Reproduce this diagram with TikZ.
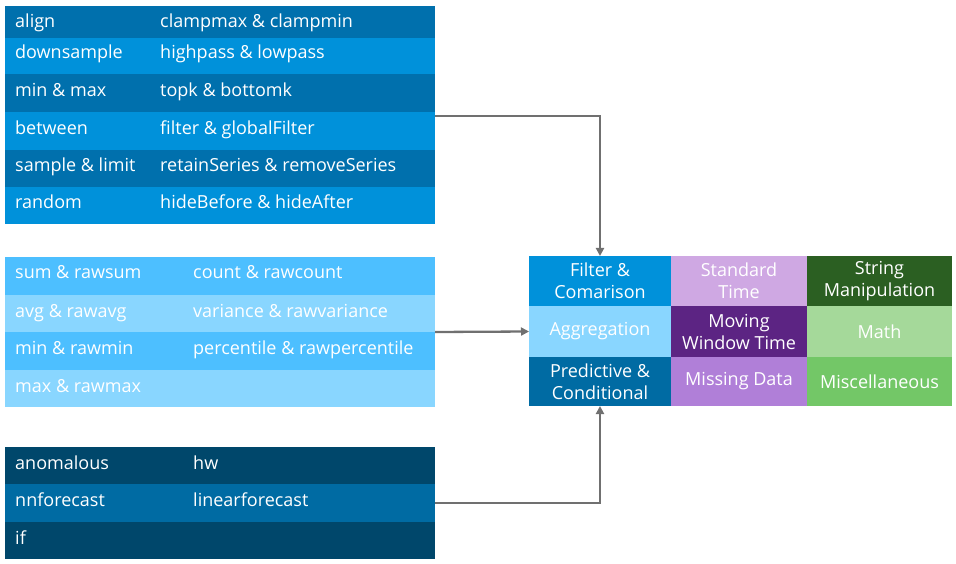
\documentclass[tikz,border=0pt]{standalone}
\usepackage{fontspec}
\setmainfont{Open Sans}
\usetikzlibrary{arrows.meta}
\definecolor{bA}{HTML}{0070AD}
\definecolor{bB}{HTML}{0091DA}
\definecolor{cA}{HTML}{4DBFFF}
\definecolor{cB}{HTML}{89D6FF}
\definecolor{dA}{HTML}{00476B}
\definecolor{dB}{HTML}{006BA3}
\definecolor{pL}{HTML}{CFA8E3}
\definecolor{pD}{HTML}{5C2483}
\definecolor{pM}{HTML}{B07FD8}
\definecolor{gD}{HTML}{2B5F22}
\definecolor{gL}{HTML}{A5D99A}
\definecolor{gM}{HTML}{73C767}
\definecolor{conn}{HTML}{707070}
\begin{document}
\begin{tikzpicture}[x=1pt,y=-1pt,
  rowbox/.style={draw=none,minimum width=430pt,anchor=north west,inner sep=0pt,outer sep=0pt},
  lbl/.style={text=white,anchor=base west,inner sep=0pt,font=\fontsize{18}{20}\selectfont},
  cell/.style={draw=none,anchor=north west,inner sep=0pt,outer sep=0pt,text=white,align=center,font=\fontsize{18}{22}\selectfont},
  link/.style={draw=conn,line width=2.3pt,-{Triangle[length=8pt,width=8pt]}}]
\useasboundingbox (0,0) rectangle (956,564);
% table 1
\node[rowbox,fill=bA,minimum height=32pt] (t1r1) at (5,6) {};
\node[rowbox,fill=bB,minimum height=36pt] (t1r2) at (5,38) {};
\node[rowbox,fill=bA,minimum height=38pt] (t1r3) at (5,74) {};
\node[rowbox,fill=bB,minimum height=38pt] (t1r4) at (5,112) {};
\node[rowbox,fill=bA,minimum height=37pt] (t1r5) at (5,150) {};
\node[rowbox,fill=bB,minimum height=37pt] (t1r6) at (5,187) {};
\foreach \y/\a/\b in {28/align/clampmax \& clampmin, 59/downsample/highpass \& lowpass, 97/min \& max/topk \& bottomk, 135/between/filter \& globalFilter, 172/sample \& limit/retainSeries \& removeSeries, 209/random/hideBefore \& hideAfter}{
  \node[lbl] at (15,\y) {\a};
  \node[lbl] at (160,\y) {\b};
}
% table 2
\node[rowbox,fill=cA,minimum height=38pt] (t2r1) at (5,257) {};
\node[rowbox,fill=cB,minimum height=37pt] (t2r2) at (5,295) {};
\node[rowbox,fill=cA,minimum height=38pt] (t2r3) at (5,332) {};
\node[rowbox,fill=cB,minimum height=37pt] (t2r4) at (5,370) {};
\foreach \y/\a/\b in {279/sum \& rawsum/count \& rawcount, 317/avg \& rawavg/variance \& rawvariance, 354/min \& rawmin/percentile \& rawpercentile, 392/max \& rawmax/}{
  \node[lbl] at (15,\y) {\a};
  \node[lbl] at (193,\y) {\b};
}
% table 3
\node[rowbox,fill=dA,minimum height=37pt] (t3r1) at (5,447) {};
\node[rowbox,fill=dB,minimum height=38pt] (t3r2) at (5,484) {};
\node[rowbox,fill=dA,minimum height=37pt] (t3r3) at (5,522) {};
\foreach \y/\a/\b in {469/anomalous/hw, 506/nnforecast/linearforecast, 544/if/}{
  \node[lbl] at (15,\y) {\a};
  \node[lbl] at (193,\y) {\b};
}
% grid
\node[cell,fill=bB,minimum width=142pt,minimum height=50pt] (filt) at (529,256) {Filter \&\\Comarison};
\node[cell,fill=pL,minimum width=136pt,minimum height=50pt] (stdt) at (671,256) {Standard\\Time};
\node[cell,fill=gD,minimum width=145pt,minimum height=50pt] (strm) at (807,256) {String\\Manipulation};
\node[cell,fill=cB,minimum width=142pt,minimum height=51pt] (aggr) at (529,306) {Aggregation};
\node[cell,fill=pD,minimum width=136pt,minimum height=51pt] (movw) at (671,306) {Moving\\Window Time};
\node[cell,fill=gL,minimum width=145pt,minimum height=51pt] (math) at (807,306) {Math};
\node[cell,fill=dB,minimum width=142pt,minimum height=49pt] (pred) at (529,357) {Predictive \&\\Conditional};
\node[cell,fill=pM,minimum width=136pt,minimum height=49pt] (miss) at (671,357) {Missing Data};
\node[cell,fill=gM,minimum width=145pt,minimum height=49pt] (misc) at (807,357) {Miscellaneous};
% connectors
\draw[link] (t1r4.east |- 0,116) -| (filt.north);
\draw[link] (t2r3.east |- 0,332) -- (aggr.west);
\draw[link] (t3r2.east |- 0,503) -| (pred.south);
\end{tikzpicture}
\end{document}
